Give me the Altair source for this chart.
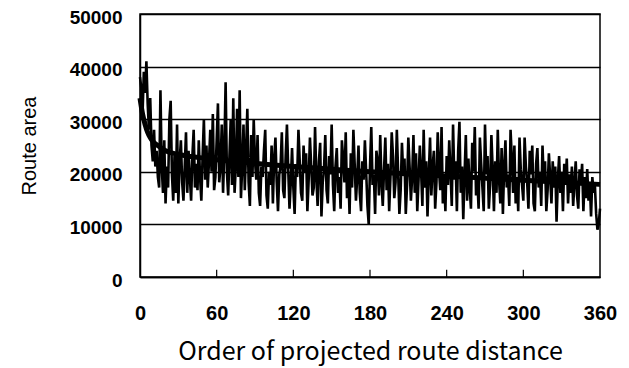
import altair as alt
import pandas as pd

# Noisy series: route area by order of projected route distance (x = 0..360)
area_values = [
    38000, 36000, 31000, 39000, 35000, 41000, 33000, 28000, 34000, 25000,
    22000, 28000, 21000, 24000, 19000, 17000, 35500, 21000, 16000, 26000,
    14000, 21000, 17000, 30000, 33500, 19500, 14500, 23000, 16000, 29000,
    14000, 22000, 26000, 18000, 14500, 21000, 27500, 16000, 24000, 19000,
    14500, 23000, 28000, 17000, 21500, 16500, 26000, 19000, 14500, 23000,
    30000, 18500, 25000, 17000, 22000, 28000, 20000, 31000, 16500, 19000,
    26000, 33000, 18000, 21000, 29000, 16000, 24000, 37000, 20000, 15500,
    23000, 30000, 17500, 34000, 16000, 21000, 32000, 19000, 35500, 15000,
    21000, 29000, 16500, 24000, 32000, 18000, 13500, 27000, 19000, 30000,
    22000, 18500, 27000, 16000, 13500, 21000, 19000, 24000, 28000, 15500,
    13000, 20000, 17500, 25000, 14000, 22500, 26500, 18000, 12500, 19500,
    21000, 27500, 16500, 15000, 23000, 29000, 20500, 13000, 18000, 24500,
    17000, 12000, 21500, 19000, 28000, 22000, 16000, 14500, 25000, 20000,
    23500, 12500, 18500, 26500, 21000, 15500, 17000, 28500, 19000, 13500,
    22000, 25500, 11500, 18000, 20500, 27000, 16500, 14000, 23000, 19500,
    29000, 17500, 12500, 21000, 24500, 16000, 19000, 13000, 26000, 22500,
    18000, 27500, 15000, 20000, 12000, 23500, 17000, 28000, 21500, 14500,
    19000, 25000, 16000, 12500, 22000, 18500, 26000, 20000, 13500, 10000,
    21000, 28500, 17500, 19500, 12000, 24000, 22000, 15500, 27000, 18000,
    13500, 20500, 26500, 16500, 21500, 12500, 19000, 27500, 23000, 15000,
    18000, 28000, 20000, 12000, 16500, 25500, 19500, 22500, 12000, 17500,
    26500, 21000, 14500, 19000, 27000, 16000, 23500, 12500, 18500, 25000,
    20000, 13500, 28000, 17000, 22000, 11500, 19500, 26500, 15500, 21000,
    24000, 13000, 18000, 27500, 20500, 16500, 28500, 14000, 19000, 12500,
    23000, 17500, 26000, 20000, 13500, 29000, 18500, 22000, 12500, 24000,
    29500, 16000, 21000, 11000, 19500, 27000, 14500, 22500, 17000, 13000,
    25500, 20000, 28500, 15500, 18500, 13000, 26500, 21500, 17000, 12500,
    29000, 19500, 23000, 13000, 17500, 27000, 20500, 12500, 22000, 16000,
    28000, 18500, 14000, 24500, 12000, 21000, 26000, 17000, 19500, 13500,
    28000, 22500, 16000, 25000, 14000, 19000, 12500, 26500, 20500, 17500,
    14500, 26500, 21000, 18000, 13000, 24000, 19500, 25000, 14000, 12500,
    21500, 24500, 17000, 20000, 13500, 25000, 18500, 22000, 12500, 16500,
    23500, 19000, 14000, 22000, 17000, 21000, 10500, 18500, 23000, 16000,
    20000, 12500, 21500, 17500, 22500, 14000, 19500, 16000, 21000, 13500,
    18000, 22000, 15500, 13000, 20500, 17500, 21500, 12500, 19000, 15000,
    20500, 14500, 18000, 11500, 19000, 16000, 17500, 12000, 9000, 10000,
    13000,
]
area_order = list(range(len(area_values)))

# Smooth trend curve
trend_order = [0, 2, 4, 6, 8, 10, 15, 20, 30, 40, 50, 60, 80, 100, 120, 150,
               180, 210, 240, 270, 300, 330, 360]
trend_values = [34000, 31000, 29000, 27500, 26500, 25800, 24800, 24000, 23300,
                22900, 22600, 22300, 21800, 21400, 21000, 20500, 20000, 19600,
                19200, 18800, 18400, 18000, 17600]

x_ticks = [0, 60, 120, 180, 240, 300, 360]
y_ticks = [0, 10000, 20000, 30000, 40000, 50000]
inner_ticks = [60, 120, 180, 240, 300]

noise_df = pd.DataFrame({"order": area_order, "area": area_values})
trend_df = pd.DataFrame({"order": trend_order, "area": trend_values})
tick_df = pd.DataFrame({"order": inner_ticks, "y0": [0] * len(inner_ticks),
                        "y1": [1400] * len(inner_ticks)})

x_scale = alt.Scale(domain=[0, 360], nice=False, zero=False)
y_scale = alt.Scale(domain=[0, 50000], nice=False)

x_axis = alt.Axis(
    values=x_ticks, title="Order of projected route distance", tickSize=0,
    labelPadding=26, labelFontSize=20, labelFontWeight="bold",
    labelFont="Liberation Sans", labelColor="black", labelFlush=False,
    titleFont="Noto Sans CJK JP", titleFontSize=25, titleFontWeight="normal",
    titleColor="black", titlePadding=16, grid=False,
    domainColor="black", domainWidth=1.5,
)
y_axis = alt.Axis(
    values=y_ticks, title="Route area", tickSize=0, labelPadding=18,
    labelFontSize=19, labelFontWeight="bold", labelFont="Liberation Sans",
    labelColor="black", labelOffset=3, labelFlush=False,
    titleFont="Liberation Sans", titleFontSize=20,
    titleFontWeight="normal", titleColor="black", titlePadding=30,
    grid=True, gridColor="black", gridWidth=1.6, gridOpacity=1,
    domainColor="black", domainWidth=1.5, format="d",
)

noise = alt.Chart(noise_df).mark_line(color="black", strokeWidth=2.6).encode(
    x=alt.X("order:Q", scale=x_scale, axis=x_axis),
    y=alt.Y("area:Q", scale=y_scale, axis=y_axis),
)
trend = alt.Chart(trend_df).mark_line(
    color="black", strokeWidth=5, interpolate="monotone"
).encode(
    x=alt.X("order:Q", scale=x_scale),
    y=alt.Y("area:Q", scale=y_scale),
)
ticks = alt.Chart(tick_df).mark_rule(color="black", strokeWidth=1.2).encode(
    x=alt.X("order:Q", scale=x_scale),
    y=alt.Y("y0:Q", scale=y_scale),
    y2="y1:Q",
)

chart = alt.layer(noise, trend, ticks).properties(
    width=460, height=263,
    autosize=alt.AutoSizeParams(type="none"),
    padding={"left": 132, "top": 6, "right": 21, "bottom": 90},
    background="white",
).configure_view(stroke="black", strokeWidth=1.5)

chart.save("out.html", embed_options={"renderer": "svg", "actions": False})
